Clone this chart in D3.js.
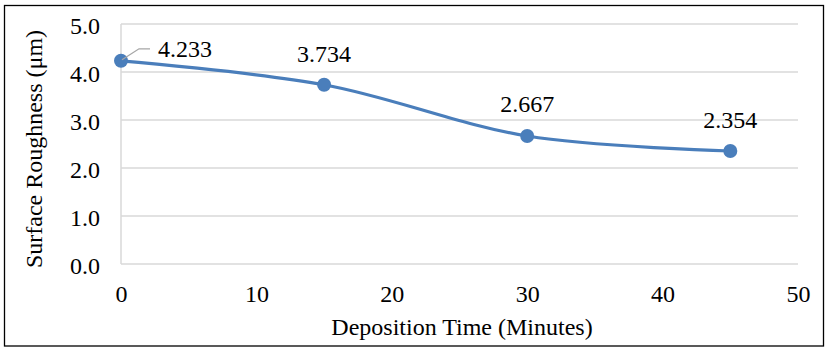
<!DOCTYPE html>
<html><head><meta charset="utf-8">
<script src="https://cdn.jsdelivr.net/npm/d3@7"></script>
<style>body{margin:0;background:#fff}svg{display:block}text{font-family:"Liberation Serif","Times New Roman",serif;fill:#000}</style>
</head><body>
<script>
const times = [0, 15, 30, 45];
const roughness = [4.233, 3.734, 2.667, 2.354];
const labels = ["4.233", "3.734", "2.667", "2.354"];
const yTicks = [0, 1, 2, 3, 4, 5];
const xTicks = [0, 10, 20, 30, 40, 50];

const W = 825, H = 347;
const FONT = "Liberation Serif, Times New Roman, serif";
const svg = d3.select("body").append("svg").attr("width", W).attr("height", H);
svg.append("rect").attr("x", 4.5).attr("y", 5.5).attr("width", 819).attr("height", 340.5)
  .attr("fill", "#fff").attr("stroke", "#000").attr("stroke-width", 1.3);

const x = d3.scaleLinear().domain([0, 50]).range([121, 798]);
const y = d3.scaleLinear().domain([0, 5]).range([264, 24]);

// grid
svg.append("g").selectAll("line").data(yTicks).join("line")
  .attr("x1", x(0)).attr("x2", x(50)).attr("y1", d => y(d)).attr("y2", d => y(d))
  .attr("stroke", "#d9d9d9").attr("stroke-width", 1.5);
svg.append("line").attr("x1", x(0)).attr("x2", x(0)).attr("y1", y(0)).attr("y2", y(5))
  .attr("stroke", "#d9d9d9").attr("stroke-width", 1.5);

// axes (labels only)
const ya = svg.append("g").attr("transform", `translate(${x(0) - 21},0)`)
  .call(d3.axisLeft(y).tickValues(yTicks).tickFormat(d3.format(".1f")).tickSize(0).tickPadding(0))
  .attr("font-family", FONT).attr("font-size", 24);
ya.select(".domain").remove();
ya.selectAll("text").attr("dy", null).attr("y", 9).attr("fill", "#000");

const xa = svg.append("g").attr("transform", `translate(0,${y(0)})`)
  .call(d3.axisBottom(x).tickValues(xTicks).tickFormat(d3.format("d")).tickSize(0).tickPadding(0))
  .attr("font-family", FONT).attr("font-size", 24);
xa.select(".domain").remove();
xa.selectAll("text").attr("dy", null).attr("y", 38).attr("fill", "#000");

// titles
svg.append("text").attr("x", 462).attr("y", 335).attr("text-anchor", "middle")
  .attr("font-size", 24).text("Deposition Time (Minutes)");
svg.append("text").attr("transform", "translate(42,149) rotate(-90)").attr("text-anchor", "middle")
  .attr("font-size", 24).text("Surface Roughness (μm)");

const data = times.map((t, i) => ({t, v: roughness[i], l: labels[i]}));
const line = d3.line().x(d => x(d.t)).y(d => y(d.v)).curve(d3.curveCatmullRom.alpha(0.5));
svg.append("path").datum(data).attr("d", line).attr("fill", "none")
  .attr("stroke", "#4a7ebb").attr("stroke-width", 3.2);
svg.append("g").selectAll("circle").data(data).join("circle")
  .attr("cx", d => x(d.t)).attr("cy", d => y(d.v)).attr("r", 7).attr("fill", "#4a7ebb");

// leader line for first label
const p0 = data[0];
svg.append("polyline")
  .attr("points", `${x(p0.t)+1},${y(p0.v)-1} ${x(p0.t)+18},${y(p0.v)-12} ${x(p0.t)+29},${y(p0.v)-12}`)
  .attr("fill", "none").attr("stroke", "#a6a6a6").attr("stroke-width", 1.3);

const offs = [{dx: 37, dy: -4, a: "start"}, {dx: 0, dy: -23, a: "middle"}, {dx: 0, dy: -24, a: "middle"}, {dx: 0, dy: -23, a: "middle"}];
svg.append("g").selectAll("text").data(data).join("text")
  .attr("x", (d, i) => x(d.t) + offs[i].dx).attr("y", (d, i) => y(d.v) + offs[i].dy)
  .attr("text-anchor", (d, i) => offs[i].a).attr("font-size", 24).text(d => d.l);
</script>
</body></html>
